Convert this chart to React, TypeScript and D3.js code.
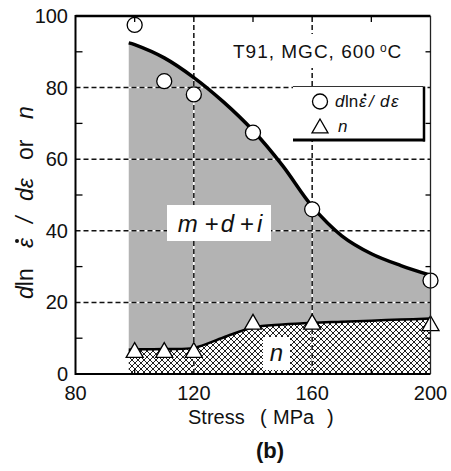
import React from "react";
import * as d3 from "d3";

// Measured points
const stressPts = [100, 110, 120, 140, 160, 200];
const dlnPts = [97.5, 81.8, 78.1, 67.4, 46.0, 26.1];
const nPts = [6.7, 6.7, 6.7, 14.6, 14.6, 14.2];

// Fitted curves bounding the shaded regions
const fitStress = [98, 100, 110, 120, 130, 140, 150, 160, 170, 180, 190, 200];
const fitUpper = [92.5, 92.0, 88.3, 82.8, 76, 68, 58.2, 46.8, 38.6, 33.6, 30.3, 27.6];
const fitLower = [6.8, 6.9, 7.0, 7.3, 10.2, 13.0, 13.8, 14.3, 14.6, 14.9, 15.2, 15.5];

const xTickLabels = [80, 120, 160, 200];
const yTickLabels = [0, 20, 40, 60, 80, 100];
const gridX = [120, 160];
const gridY = [20, 40, 60, 80];
const minorX = [100, 140, 180];
const minorY = [10, 30, 50, 70, 90];

const W = 451;
const H = 471;
const FONT = "'Liberation Sans', Arial, sans-serif";

export default function App() {
  const x = d3.scaleLinear().domain([80, 200]).range([75.5, 430.5]);
  const y = d3.scaleLinear().domain([0, 100]).range([374, 16]);

  const curve = d3.curveCatmullRom.alpha(0.5);
  const fit = fitStress.map((s, i) => ({ s, up: fitUpper[i], lo: fitLower[i] }));
  const grayArea = d3
    .area<any>()
    .x((d) => x(d.s))
    .y0((d) => y(d.lo))
    .y1((d) => y(d.up))
    .curve(curve)(fit);
  const hatchArea = d3
    .area<any>()
    .x((d) => x(d.s))
    .y0(() => y(0))
    .y1((d) => y(d.lo))
    .curve(curve)(fit);
  const upperLine = d3
    .line<any>()
    .x((d) => x(d.s))
    .y((d) => y(d.up))
    .curve(curve)(fit);
  const lowerLine = d3
    .line<any>()
    .x((d) => x(d.s))
    .y((d) => y(d.lo))
    .curve(curve)(fit);

  const [x0, x1] = x.range();
  const [yB, yT] = y.range();

  const tri = (cx: number, cy: number, s = 17) => {
    const h = s * 0.87;
    return `M${cx},${cy - h / 2}L${cx + s / 2},${cy + h / 2}L${cx - s / 2},${cy + h / 2}Z`;
  };

  return (
    <svg width={W} height={H} style={{ position: "absolute", left: 0, top: 0, background: "#fff" }} fontFamily={FONT}>
      <defs>
        <pattern id="xhatch" width={6} height={6} patternUnits="userSpaceOnUse">
          <rect width={6} height={6} fill="#fff" />
          <path d="M0,0L6,6M6,0L0,6" stroke="#222" strokeWidth={1} />
        </pattern>
      </defs>
      <rect width={W} height={H} fill="#fff" />

      {/* regions */}
      <path d={grayArea || ""} fill="#b3b3b3" />
      <path d={hatchArea || ""} fill="url(#xhatch)" />

      {/* dashed grid */}
      {gridX.map((v) => (
        <g key={"gx" + v}>
          <line x1={x(v)} x2={x(v)} y1={yB} y2={yT} stroke="#fff" strokeWidth={1.5} />
          <line x1={x(v)} x2={x(v)} y1={yB} y2={yT} stroke="#111" strokeWidth={1.5} strokeDasharray="5,3" />
        </g>
      ))}
      {gridY.map((v) => (
        <g key={"gy" + v}>
          <line x1={x0} x2={x1} y1={y(v)} y2={y(v)} stroke="#fff" strokeWidth={1.5} />
          <line x1={x0} x2={x1} y1={y(v)} y2={y(v)} stroke="#111" strokeWidth={1.5} strokeDasharray="5,3" />
        </g>
      ))}

      {/* title */}
      <rect x={228} y={34} width={188} height={34} fill="#fff" />
      <text x={233} y={58} fontSize={19} letterSpacing={1} fill="#111">
        T91, MGC, 600
        <tspan fontSize={12} dx={4} dy={-6}>o</tspan>
        <tspan dy={6}>C</tspan>
      </text>

      {/* legend */}
      <rect x={293} y={86.5} width={130} height={53} fill="#fff" />
      <line x1={293} x2={423} y1={86.5} y2={86.5} stroke="#333" strokeWidth={1} />
      <line x1={293} x2={425} y1={140} y2={140} stroke="#000" strokeWidth={3} />
      <line x1={424} x2={424} y1={86.5} y2={141.5} stroke="#000" strokeWidth={2.5} />
      <circle cx={320} cy={101.5} r={7.5} fill="#fff" stroke="#000" strokeWidth={1.3} />
      <g fontSize={17} fill="#111">
        <text x={335} y={107} fontStyle="italic">d</text>
        <text x={345} y={107}>ln</text>
        <text x={359} y={107} fontStyle="italic">{"\u03b5"}</text>
        <circle cx={365} cy={95} r={1.4} fill="#111" />
        <text x={369} y={107} fontStyle="italic">/</text>
        <text x={380} y={107} fontStyle="italic">d</text>
        <text x={391} y={107} fontStyle="italic">{"\u03b5"}</text>
      </g>
      <path d={tri(320, 126, 16)} fill="#fff" stroke="#000" strokeWidth={1.3} />
      <text x={338} y={132} fontSize={17} fontStyle="italic" fill="#111">n</text>

      {/* fitted curves */}
      <path d={upperLine || ""} fill="none" stroke="#000" strokeWidth={3.5} />
      <path d={lowerLine || ""} fill="none" stroke="#000" strokeWidth={2.5} />

      {/* region labels */}
      <rect x={167} y={205} width={104} height={36} fill="#fff" />
      <text x={220} y={232} fontSize={24} textAnchor="middle" fill="#111">
        <tspan fontStyle="italic">m</tspan>
        <tspan dx={7}>+</tspan>
        <tspan fontStyle="italic" dx={2}>d</tspan>
        <tspan dx={6}>+</tspan>
        <tspan fontStyle="italic" dx={3}>i</tspan>
      </text>
      <rect x={263} y={337} width={27} height={33} fill="#fff" />
      <text x={276.5} y={361} fontSize={24} fontStyle="italic" textAnchor="middle" fill="#111">n</text>

      {/* markers */}
      {stressPts.map((s, i) => (
        <circle key={"c" + s} cx={x(s)} cy={y(dlnPts[i])} r={7.5} fill="#fff" stroke="#000" strokeWidth={1.3} />
      ))}
      {stressPts.map((s, i) => (
        <path key={"t" + s} d={tri(x(s), y(nPts[i]))} fill="#fff" stroke="#000" strokeWidth={1.3} />
      ))}

      {/* frame */}
      <line x1={x0} x2={x0} y1={yT - 1} y2={yB + 1} stroke="#000" strokeWidth={2} />
      <line x1={x0} x2={x1} y1={yB} y2={yB} stroke="#000" strokeWidth={2} />
      <line x1={x0} x2={x1} y1={yT} y2={yT} stroke="#000" strokeWidth={2.5} />
      <line x1={x1} x2={x1} y1={yT} y2={yB} stroke="#222" strokeWidth={1.3} />

      {/* minor ticks */}
      {minorY.map((v) => (
        <g key={"my" + v}>
          <line x1={x0} x2={x0 + 7} y1={y(v)} y2={y(v)} stroke="#000" strokeWidth={1.3} />
          <line x1={x1} x2={x1 - 5} y1={y(v)} y2={y(v)} stroke="#000" strokeWidth={1.3} />
        </g>
      ))}
      {minorX.map((v) => (
        <g key={"mx" + v}>
          <line x1={x(v)} x2={x(v)} y1={yB} y2={yB - 5} stroke="#000" strokeWidth={1.3} />
          <line x1={x(v)} x2={x(v)} y1={yT} y2={yT + 6} stroke="#000" strokeWidth={1.3} />
        </g>
      ))}

      {/* tick labels */}
      {yTickLabels.map((v) => (
        <text key={"yl" + v} x={68} y={y(v) + 7} fontSize={20} textAnchor="end" fill="#111">
          {v}
        </text>
      ))}
      {xTickLabels.map((v) => (
        <text key={"xl" + v} x={x(v)} y={400} fontSize={20} textAnchor="middle" fill="#111">
          {v}
        </text>
      ))}

      {/* axis titles */}
      <text x={188} y={424} fontSize={20} fill="#111">
        <tspan>Stress</tspan>
        <tspan x={260}>(</tspan>
        <tspan x={273}>MPa</tspan>
        <tspan x={327}>)</tspan>
      </text>
      <g transform="translate(33,0)" fill="#111" fontSize={23}>
        <text transform="translate(0,299) rotate(-90)">
          <tspan fontStyle="italic">d</tspan>
          <tspan>ln</tspan>
        </text>
        <text transform="translate(0,248) rotate(-90)" fontStyle="italic">{"\u03b5"}</text>
        <circle cx={-16} cy={241} r={2} fill="#111" />
        <text transform="translate(0,223) rotate(-90)" fontStyle="italic">/</text>
        <text transform="translate(0,201) rotate(-90)" fontStyle="italic">d{"\u03b5"}</text>
        <text transform="translate(0,160) rotate(-90)">or</text>
        <text transform="translate(0,119) rotate(-90)" fontStyle="italic">n</text>
      </g>
      <text x={270} y={458} fontSize={22} fontWeight="bold" textAnchor="middle" fill="#111">(b)</text>
    </svg>
  );
}
